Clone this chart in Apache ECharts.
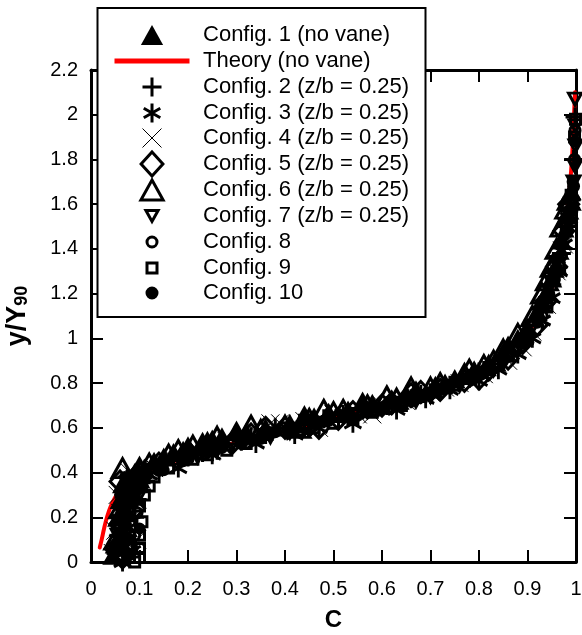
<!DOCTYPE html>
<html><head><meta charset="utf-8">
<script src="https://cdn.jsdelivr.net/npm/echarts@6/dist/echarts.min.js"></script>
<style>html,body{margin:0;padding:0;background:#fff}#c{width:582px;height:635px}</style>
</head><body><div id="c"></div>
<script>
const FONT = '"Liberation Sans", Arial, sans-serif';

// ---- data (C, y/Y90) ----
const theory = [[0.018,0.065],[0.022,0.1],[0.027,0.15],[0.033,0.2],[0.04,0.245],[0.05,0.29],[0.06,0.32],[0.08,0.36],[0.1,0.39],[0.13,0.42],[0.16,0.445],[0.2,0.47],[0.25,0.505],[0.3,0.535],[0.35,0.56],[0.4,0.585],[0.45,0.61],[0.5,0.64],[0.55,0.675],[0.6,0.705],[0.65,0.74],[0.7,0.775],[0.75,0.815],[0.8,0.86],[0.85,0.93],[0.9,1.03],[0.93,1.12],[0.95,1.22],[0.97,1.39],[0.98,1.53],[0.99,1.75],[0.995,1.95],[0.998,2.1]];
const config1 = [[0.045,0.03],[0.05,0.08],[0.055,0.2],[0.06,0.12],[0.06,0.28],[0.065,0.35],[0.07,0.33],[0.075,0.22],[0.085,0.3],[0.08,0.37],[0.09,0.4],[0.1,0.35],[0.11,0.42],[0.13,0.45],[0.15,0.47],[0.17,0.49],[0.19,0.5],[0.2,0.52],[0.23,0.54],[0.25,0.55],[0.27,0.56],[0.3,0.59],[0.32,0.58],[0.36,0.6],[0.41,0.62],[0.44,0.66],[0.46,0.65],[0.49,0.67],[0.53,0.68],[0.56,0.72],[0.58,0.71],[0.62,0.73],[0.65,0.75],[0.67,0.77],[0.71,0.79],[0.73,0.8],[0.75,0.82],[0.79,0.86],[0.82,0.89],[0.85,0.94],[0.86,0.97],[0.88,1.0],[0.9,1.05],[0.92,1.12],[0.93,1.17],[0.94,1.21],[0.95,1.27],[0.96,1.33],[0.97,1.44],[0.98,1.55],[0.99,1.66]];
const config2 = [[0.05,0.05],[0.07,0.1],[0.06,0.15],[0.09,0.2],[0.065,0.25],[0.095,0.28],[0.08,0.32],[0.075,0.38],[0.1,0.38],[0.14,0.43],[0.2,0.47],[0.23,0.49],[0.26,0.5],[0.31,0.54],[0.33,0.56],[0.36,0.57],[0.38,0.6],[0.43,0.62],[0.48,0.64],[0.52,0.66],[0.56,0.68],[0.61,0.7],[0.66,0.73],[0.68,0.75],[0.7,0.75],[0.74,0.79],[0.78,0.82],[0.8,0.85],[0.83,0.87],[0.87,0.94],[0.9,1.01],[0.93,1.12],[0.95,1.24],[0.96,1.3],[0.97,1.38],[0.98,1.5],[0.985,1.57],[0.99,1.62],[0.995,1.8],[0.998,1.99]];
const config3 = [[0.05,0.02],[0.065,0.0],[0.085,0.05],[0.055,0.1],[0.075,0.15],[0.06,0.19],[0.07,0.27],[0.08,0.3],[0.09,0.34],[0.1,0.36],[0.12,0.39],[0.18,0.42],[0.25,0.48],[0.34,0.53],[0.42,0.57],[0.47,0.6],[0.54,0.62],[0.63,0.68],[0.69,0.73],[0.74,0.77],[0.8,0.81],[0.84,0.86],[0.88,0.93],[0.91,1.0],[0.93,1.08],[0.95,1.18],[0.965,1.3],[0.975,1.42],[0.985,1.54],[0.99,1.6]];
const config4 = [[0.045,0.04],[0.095,0.1],[0.05,0.14],[0.07,0.08],[0.06,0.22],[0.085,0.2],[0.055,0.3],[0.07,0.3],[0.09,0.37],[0.08,0.4],[0.13,0.42],[0.17,0.46],[0.22,0.5],[0.25,0.5],[0.28,0.54],[0.34,0.58],[0.37,0.62],[0.39,0.62],[0.44,0.63],[0.47,0.6],[0.5,0.66],[0.55,0.66],[0.58,0.66],[0.6,0.7],[0.65,0.72],[0.7,0.76],[0.73,0.78],[0.76,0.8],[0.81,0.84],[0.86,0.9],[0.89,0.96],[0.91,1.03],[0.94,1.15],[0.96,1.3],[0.975,1.42],[0.985,1.56]];
const config5 = [[0.065,0.02],[0.05,0.06],[0.06,0.17],[0.09,0.24],[0.07,0.26],[0.08,0.34],[0.06,0.36],[0.1,0.4],[0.14,0.44],[0.2,0.49],[0.24,0.51],[0.29,0.53],[0.33,0.57],[0.36,0.6],[0.4,0.6],[0.45,0.61],[0.47,0.6],[0.51,0.64],[0.54,0.67],[0.57,0.69],[0.6,0.7],[0.62,0.71],[0.66,0.75],[0.68,0.76],[0.72,0.77],[0.77,0.81],[0.8,0.82],[0.82,0.86],[0.86,0.91],[0.89,0.98],[0.92,1.06],[0.94,1.17],[0.96,1.32],[0.975,1.48],[0.985,1.6]];
const config6 = [[0.055,0.05],[0.05,0.1],[0.07,0.16],[0.06,0.24],[0.085,0.3],[0.075,0.35],[0.095,0.38],[0.065,0.42],[0.1,0.42],[0.12,0.44],[0.16,0.48],[0.18,0.5],[0.21,0.52],[0.24,0.53],[0.26,0.56],[0.3,0.57],[0.33,0.61],[0.35,0.59],[0.4,0.61],[0.43,0.6],[0.45,0.64],[0.48,0.68],[0.5,0.67],[0.52,0.68],[0.57,0.7],[0.61,0.74],[0.63,0.73],[0.66,0.78],[0.7,0.78],[0.72,0.8],[0.77,0.84],[0.78,0.86],[0.81,0.88],[0.83,0.9],[0.85,0.95],[0.88,1.02],[0.91,1.1],[0.93,1.2],[0.94,1.26],[0.95,1.32],[0.96,1.4],[0.97,1.5],[0.98,1.58],[0.985,1.62]];
const config7 = [[0.05,0.03],[0.08,0.07],[0.055,0.12],[0.07,0.18],[0.065,0.21],[0.075,0.3],[0.1,0.3],[0.09,0.36],[0.11,0.41],[0.15,0.43],[0.22,0.47],[0.26,0.5],[0.29,0.52],[0.37,0.56],[0.41,0.58],[0.44,0.6],[0.52,0.65],[0.55,0.66],[0.59,0.68],[0.64,0.71],[0.67,0.72],[0.7,0.74],[0.76,0.79],[0.8,0.83],[0.83,0.86],[0.85,0.89],[0.88,0.95],[0.91,1.05],[0.93,1.14],[0.95,1.25],[0.96,1.34],[0.97,1.4],[0.98,1.5],[0.99,1.6],[0.995,1.7],[0.998,1.77],[0.999,1.86],[0.999,1.95],[0.998,2.07]];
const config8 = [[0.06,0.02],[0.05,0.05],[0.085,0.06],[0.09,0.12],[0.06,0.16],[0.095,0.22],[0.07,0.25],[0.08,0.3],[0.075,0.35],[0.1,0.36],[0.14,0.41],[0.2,0.46],[0.24,0.5],[0.27,0.52],[0.31,0.53],[0.35,0.56],[0.4,0.6],[0.44,0.6],[0.48,0.63],[0.52,0.65],[0.56,0.67],[0.62,0.71],[0.66,0.72],[0.7,0.75],[0.74,0.79],[0.78,0.82],[0.84,0.88],[0.89,0.98],[0.93,1.1],[0.955,1.26],[0.97,1.37],[0.98,1.48],[0.99,1.58],[0.995,1.68],[0.997,1.8],[0.998,1.93]];
const config9 = [[0.09,0.0],[0.06,0.03],[0.065,0.08],[0.1,0.02],[0.1,0.06],[0.1,0.12],[0.07,0.15],[0.105,0.18],[0.08,0.22],[0.1,0.25],[0.11,0.3],[0.12,0.34],[0.13,0.38],[0.16,0.42],[0.21,0.46],[0.24,0.48],[0.28,0.5],[0.32,0.53],[0.36,0.57],[0.43,0.59],[0.46,0.6],[0.5,0.62],[0.54,0.64],[0.58,0.67],[0.61,0.69],[0.64,0.7],[0.68,0.74],[0.71,0.77],[0.75,0.79],[0.79,0.83],[0.82,0.87],[0.86,0.92],[0.9,1.0],[0.94,1.14],[0.965,1.33],[0.98,1.5],[0.99,1.64],[0.997,1.9],[0.999,1.98]];
const config10 = [[0.07,0.04],[0.055,0.06],[0.08,0.1],[0.065,0.13],[0.1,0.15],[0.075,0.2],[0.085,0.26],[0.06,0.3],[0.095,0.32],[0.11,0.37],[0.07,0.38],[0.15,0.41],[0.19,0.45],[0.24,0.49],[0.27,0.51],[0.31,0.53],[0.35,0.55],[0.38,0.58],[0.42,0.6],[0.46,0.62],[0.49,0.63],[0.53,0.65],[0.57,0.68],[0.6,0.69],[0.63,0.71],[0.67,0.73],[0.7,0.76],[0.73,0.78],[0.77,0.82],[0.8,0.84],[0.82,0.87],[0.85,0.9],[0.9,0.99],[0.92,1.07],[0.945,1.2],[0.96,1.3],[0.975,1.46],[0.985,1.55],[0.993,1.7],[0.997,1.88]];

// ---- styling ----
const SYM = {
  triUp: 'path://M0,-1L1,0.8L-1,0.8Z',
  plus: 'path://M0,-1L0,1M-1,0L1,0',
  star: 'path://M0,-1L0,1M-0.87,-0.5L0.87,0.5M-0.87,0.5L0.87,-0.5',
  cross: 'path://M-1,-1L1,1M-1,1L1,-1',
  diamond: 'path://M0,-1.1L1,0L0,1.1L-1,0Z',
  triDown: 'path://M-1,-0.8L1,-0.8L0,1Z',
  circle: 'path://M1,0A1,1,0,1,1,-1,0A1,1,0,1,1,1,0Z',
  square: 'path://M-1,-1L1,-1L1,1L-1,1Z',
  line: 'path://M0,0L75,0L75,5L0,5Z'
};
const NONE = 'rgba(0,0,0,0)';
// legW/legH: legend icon box (rendered width/height of the glyph)
const markers = [
  {name:'Config. 1 (no vane)', data:config1, sym:SYM.triUp, size:[21,19], fill:'#000', lw:0, legW:22.2, legH:20},
  {name:'Config. 2 (z/b = 0.25)', data:config2, sym:SYM.plus, size:[19,19], fill:NONE, lw:3, legW:19, legH:19},
  {name:'Config. 3 (z/b = 0.25)', data:config3, sym:SYM.star, size:[17,19], fill:NONE, lw:3, legW:16.5, legH:19},
  {name:'Config. 4 (z/b = 0.25)', data:config4, sym:SYM.cross, size:[18,18], fill:NONE, lw:1, legW:19, legH:19},
  {name:'Config. 5 (z/b = 0.25)', data:config5, sym:SYM.diamond, size:[20,21], fill:NONE, lw:3, legW:21.8, legH:24},
  {name:'Config. 6 (z/b = 0.25)', data:config6, sym:SYM.triUp, size:[21,19], fill:NONE, lw:3, legW:22.2, legH:20},
  {name:'Config. 7 (z/b = 0.25)', data:config7, sym:SYM.triDown, size:[13,12], fill:NONE, lw:3, legW:12.2, legH:11},
  {name:'Config. 8', data:config8, sym:SYM.circle, size:[10,10], fill:NONE, lw:3, legW:10, legH:10},
  {name:'Config. 9', data:config9, sym:SYM.square, size:[10,10], fill:NONE, lw:3, legW:10, legH:10},
  {name:'Config. 10', data:config10, sym:SYM.circle, size:[10,10], fill:'#000', lw:2, legW:11, legH:11}
];
const THEORY_NAME = 'Theory (no vane)';

const series = [{
  name: THEORY_NAME, type:'line', data: theory, showSymbol:false, symbol:'none', smooth:true,
  lineStyle:{color:'#ff0000', width:4, cap:'round'}, itemStyle:{color:'#ff0000'}, z:1
}].concat(markers.map(m => ({
  name: m.name, type:'scatter', data: m.data, symbol: m.sym, symbolSize: m.size,
  itemStyle:{color:m.fill, borderColor:'#000', borderWidth:m.lw, opacity:1}, z:2
})));

// legend rows (one legend per row so each icon keeps its own size)
const ICON_CX = 152;
const legendOrder = [
  {name:markers[0].name, icon:markers[0].sym, w:markers[0].legW, h:markers[0].legH, lw:0, st:{color:'#000', borderColor:'#000', borderWidth:0}},
  {name:THEORY_NAME, icon:SYM.line, w:75, h:5, lw:0, st:{color:'#ff0000', borderWidth:0}}
].concat(markers.slice(1).map(m => ({name:m.name, icon:m.sym, w:m.legW, h:m.legH, lw:m.lw,
  st:{color:m.fill, borderColor:'#000', borderWidth:m.lw}})));
const rowC = [35, 61, 87, 113, 138, 164, 190, 216, 242, 268, 293];
const TXT = 22;
const legends = legendOrder.map((it, i) => ({
  orient:'vertical', left: ICON_CX - (it.w + it.lw) / 2,
  top: rowC[i] - Math.max(TXT / 2, it.h / 2 + it.lw / 2), padding:0,
  itemWidth:92, itemHeight:it.h, itemGap:0, selectedMode:false, z:5,
  textStyle:{fontFamily:FONT, fontSize:TXT, color:'#000', lineHeight:TXT},
  data:[{name:it.name, icon:it.icon, itemStyle:it.st}]
}));

const axLine = {onZero:false, lineStyle:{color:'#000', width:3}};
const axTick = {inside:true, length:12, lineStyle:{color:'#000', width:2}};
const lbl = {fontFamily:FONT, fontSize:20, color:'#000'};

const option = {
  animation:false,
  backgroundColor:'#fff',
  grid:{left:91, right:6, top:70, bottom:73, containLabel:false, outerBoundsMode:'none'},
  xAxis:[
    {type:'value', min:0, max:1, interval:0.1, position:'bottom', axisLine:axLine, axisTick:axTick,
     axisLabel:Object.assign({margin:17}, lbl), splitLine:{show:false},
     name:'C', nameLocation:'middle', nameGap:46,
     nameTextStyle:{fontFamily:FONT, fontSize:24, fontWeight:'bold', color:'#000'}},
    {type:'value', min:0, max:1, interval:0.1, position:'top', axisLine:axLine, axisTick:axTick,
     axisLabel:{show:false}, splitLine:{show:false}}
  ],
  yAxis:[
    {type:'value', min:0, max:2.2, interval:0.2, position:'left', axisLine:axLine, axisTick:axTick,
     axisLabel:Object.assign({margin:13}, lbl), splitLine:{show:false},
     name:'y/Y{sub|90}', nameLocation:'middle', nameGap:60,
     nameTextStyle:{fontFamily:FONT, fontSize:27, fontWeight:'bold', color:'#000',
       rich:{sub:{fontFamily:FONT, fontSize:18, fontWeight:'bold', color:'#000', verticalAlign:'bottom'}}}},
    {type:'value', min:0, max:2.2, interval:0.2, position:'right', axisLine:axLine, axisTick:axTick,
     axisLabel:{show:false}, splitLine:{show:false}}
  ],
  graphic:[{type:'rect', z:3, shape:{x:97.5, y:8, width:328, height:309},
            style:{fill:'#fff', stroke:'#000', lineWidth:2}}],
  legend: legends,
  series: series
};
const chart = echarts.init(document.getElementById('c'));
chart.setOption(option);
</script></body></html>
